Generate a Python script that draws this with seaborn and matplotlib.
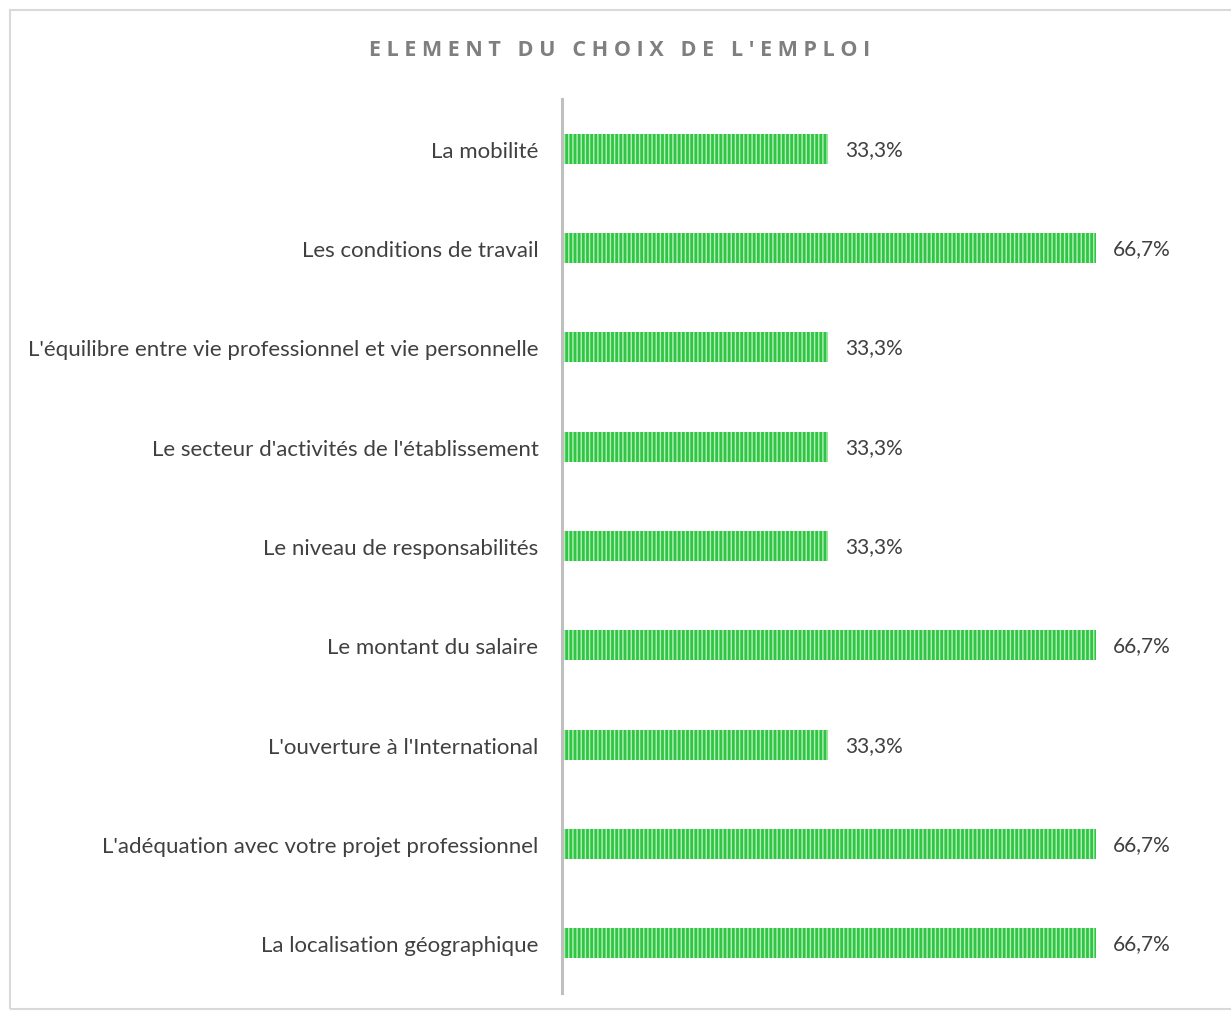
import matplotlib
matplotlib.use("Agg")
import matplotlib.pyplot as plt
import seaborn as sns
import pandas as pd
from matplotlib.patches import Rectangle

# Data
categories = [
    "La mobilité",
    "Les conditions de travail",
    "L'équilibre entre vie professionnel et vie personnelle",
    "Le secteur d'activités de l'établissement",
    "Le niveau de responsabilités",
    "Le montant du salaire",
    "L'ouverture à l'International",
    "L'adéquation avec votre projet professionnel",
    "La localisation géographique",
]
values = [33.3, 66.7, 33.3, 33.3, 33.3, 66.7, 33.3, 66.7, 66.7]
value_labels = ["33,3%", "66,7%", "33,3%", "33,3%", "33,3%", "66,7%", "33,3%", "66,7%", "66,7%"]

df = pd.DataFrame({"element": categories, "pct": values})

sns.set_style("white")
plt.rcParams["font.family"] = ["Lato", "DejaVu Sans"]
plt.rcParams["hatch.linewidth"] = 1.0

fig = plt.figure(figsize=(12.31, 10.12), dpi=100)
ax = fig.add_axes([562 / 1231, 18 / 1012, 560 / 1231, 894 / 1012])

sns.barplot(data=df, x="pct", y="element", orient="h", color="#30c545",
            width=0.3, ax=ax, saturation=1)

# vertical stripes like the original fill
for bar in ax.patches:
    bar.set_hatch("||||")
    bar.set_edgecolor("#b5efb9")
    bar.set_linewidth(0)

for bar, lab in zip(ax.patches, value_labels):
    ax.text(bar.get_width() + 2.1, bar.get_y() + bar.get_height() / 2, lab,
            va="center", ha="left", fontsize=15, color="#404040")

ax.set_xlim(0, 70)
ax.set_ylim(8.5, -0.5)
ax.set_xlabel("")
ax.set_ylabel("")
ax.set_xticks([])
ax.tick_params(axis="y", length=0, pad=17, labelsize=16, labelcolor="#404040")
for s in ["top", "right", "bottom"]:
    ax.spines[s].set_visible(False)
ax.spines["left"].set_color("#bfbfbf")
ax.spines["left"].set_linewidth(2.2)

fig.text(620 / 1231, 1 - 51 / 1012, " ".join("ELEMENT DU CHOIX DE L'EMPLOI"),
         ha="center", va="center", fontsize=15.5, fontweight="bold", color="#7f7f7f",
         family=["Open Sans", "DejaVu Sans"])

# chart area border
fig.patches.append(Rectangle((10 / 1231, 2 / 1012), 1225 / 1231, 999 / 1012,
                             transform=fig.transFigure, fill=False,
                             edgecolor="#d9d9d9", linewidth=1.5))

fig.savefig("out.png", dpi=100)
